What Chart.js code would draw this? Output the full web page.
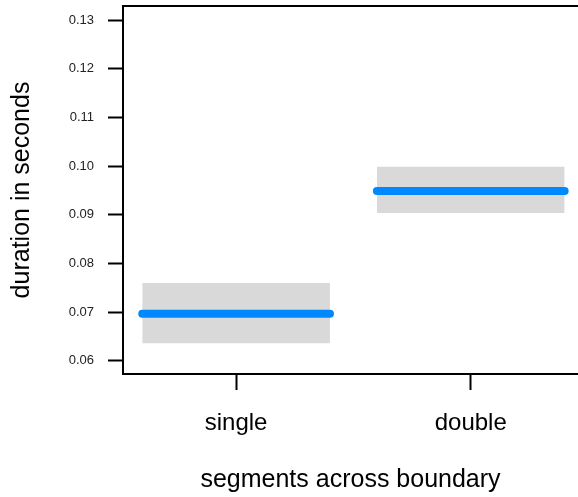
<!DOCTYPE html>
<html>
<head>
<meta charset="utf-8">
<script src="https://cdn.jsdelivr.net/npm/chart.js@4"></script>
<style>
  html, body { margin: 0; padding: 0; background: #fff; }
  #wrap { width: 578px; height: 497px; }
</style>
</head>
<body>
<div id="wrap"><canvas id="effChart" width="578" height="497"></canvas></div>
<script>
// values
var categories = ['single', 'double'];
var fitValues = [0.0697, 0.0949];
var lowerValues = [0.0636, 0.0904];
var upperValues = [0.0760, 0.0999];
var yTicks = [0.06, 0.07, 0.08, 0.09, 0.10, 0.11, 0.12, 0.13];

var halfWidth = 0.4;
var FONT = "'Liberation Sans', Arial, sans-serif";

function seg(i, v) {
    return [{x: i + 1 - halfWidth, y: v}, {x: i + 1 + halfWidth, y: v}];
}

var datasets = [];
categories.forEach(function(c, i) {
    datasets.push({
        label: c + ' lower',
        data: seg(i, lowerValues[i]),
        borderWidth: 0,
        pointRadius: 0,
        fill: false,
        order: 2
    });
    datasets.push({
        label: c + ' upper',
        data: seg(i, upperValues[i]),
        borderWidth: 0,
        pointRadius: 0,
        backgroundColor: '#d9d9d9',
        fill: '-1',
        order: 2
    });
});
categories.forEach(function(c, i) {
    datasets.push({
        label: c + ' fit',
        data: seg(i, fitValues[i]),
        borderColor: '#0088ff',
        borderWidth: 8,
        borderCapStyle: 'round',
        pointRadius: 0,
        fill: false,
        order: 0
    });
});

// top border of the box
var topLine = {
    id: 'topLine',
    afterDraw: function(chart) {
        var a = chart.chartArea, ctx = chart.ctx;
        ctx.save();
        ctx.strokeStyle = '#000';
        ctx.lineWidth = 2;
        ctx.beginPath();
        ctx.moveTo(a.left - 1, a.top);
        ctx.lineTo(a.right, a.top);
        ctx.stroke();
        ctx.restore();
    }
};

var ctx = document.getElementById('effChart').getContext('2d');
var myChart = new Chart(ctx, {
    type: 'line',
    data: { datasets: datasets },
    plugins: [topLine],
    options: {
        responsive: false,
        animation: false,
        layout: { padding: { top: 6, right: 0, left: 0, bottom: 0 } },
        plugins: { legend: { display: false }, tooltip: { enabled: false } },
        scales: {
            x: {
                type: 'linear',
                min: 0.518,
                max: 2.457,
                afterBuildTicks: function(s) { s.ticks = categories.map(function(c, i) { return {value: i + 1}; }); },
                afterFit: function(s) { s.height = 123; s.paddingLeft = 0; s.paddingRight = 0; },
                ticks: {
                    callback: function(v) { return categories[v - 1]; },
                    color: '#000',
                    font: { family: FONT, size: 24 },
                    padding: 19,
                    maxRotation: 0
                },
                grid: { drawOnChartArea: false, tickLength: 16, tickColor: '#000', tickWidth: 2 },
                border: { display: true, color: '#000', width: 2 },
                title: {
                    display: true,
                    text: 'segments across boundary',
                    color: '#000',
                    font: { family: FONT, size: 25 },
                    padding: { top: 0, bottom: 2 }
                }
            },
            y: {
                min: 0.0573,
                max: 0.1329,
                afterBuildTicks: function(s) { s.ticks = yTicks.map(function(v) { return {value: v}; }); },
                afterFit: function(s) { s.width = 123; s.paddingTop = 0; s.paddingBottom = 0; },
                ticks: {
                    callback: function(v) { return v.toFixed(2); },
                    color: '#222',
                    font: { family: FONT, size: 13 },
                    padding: 14
                },
                grid: { drawOnChartArea: false, tickLength: 15, tickColor: '#000', tickWidth: 2 },
                border: { display: true, color: '#000', width: 2 },
                title: {
                    display: true,
                    text: 'duration in seconds',
                    color: '#000',
                    font: { family: FONT, size: 25 },
                    padding: { top: 7, bottom: 0 }
                }
            }
        }
    }
});
</script>
</body>
</html>
